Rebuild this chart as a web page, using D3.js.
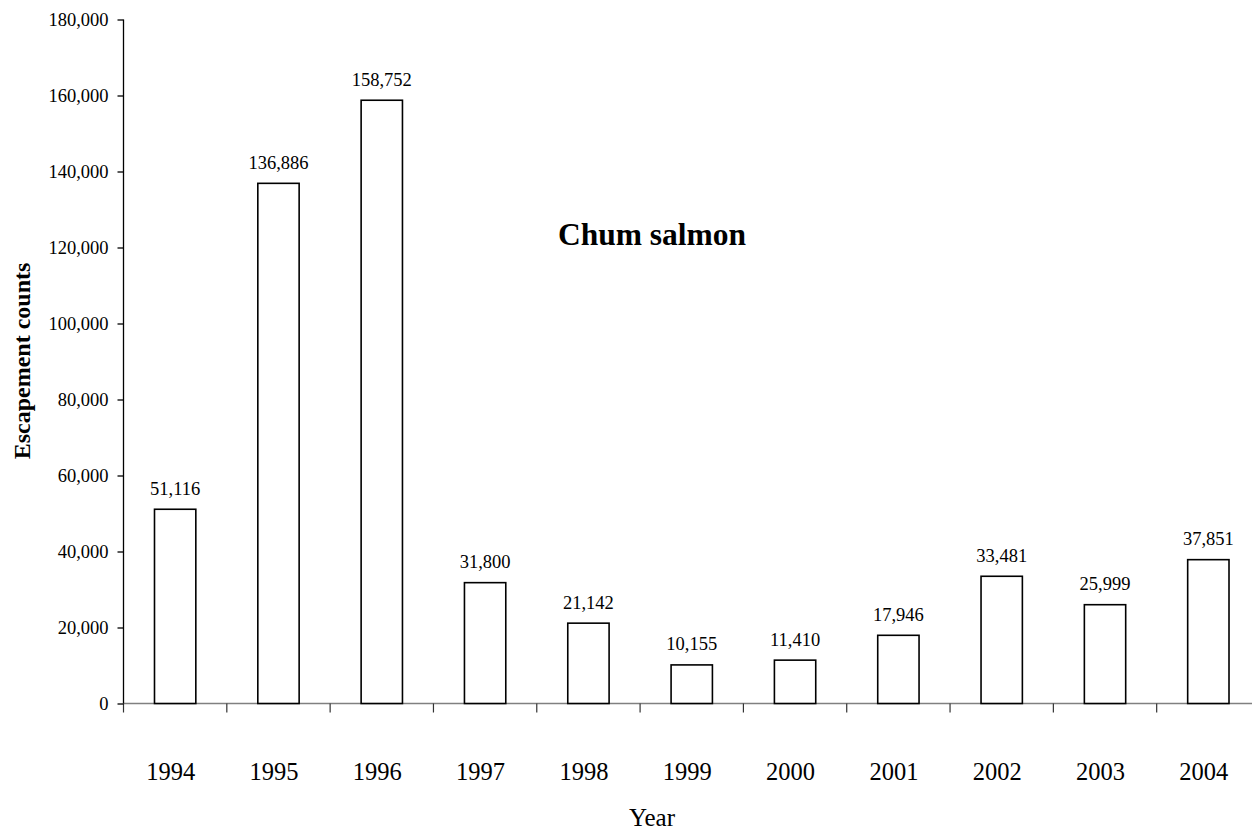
<!DOCTYPE html>
<html>
<head>
<meta charset="utf-8">
<script src="https://cdn.jsdelivr.net/npm/d3@7"></script>
<style>
  html, body { margin: 0; padding: 0; background: #fff; }
  svg text { font-family: "Liberation Serif", "Times New Roman", serif; }
</style>
</head>
<body>
<svg id="chart" width="1252" height="831"></svg>
<script>
// Chum salmon escapement counts by year
const years = ["1994", "1995", "1996", "1997", "1998", "1999", "2000", "2001", "2002", "2003", "2004"];
const counts = [51116, 136886, 158752, 31800, 21142, 10155, 11410, 17946, 33481, 25999, 37851];
const yTicks = [0, 20000, 40000, 60000, 80000, 100000, 120000, 140000, 160000, 180000];

const serif = "Liberation Serif";
const svg = d3.select("#chart");
const plotLeft = 123.5, plotTop = 19.5, plotBottom = 703.5, plotRight = 1260;

const x = d3.scaleBand().domain(years).range([plotLeft, plotRight]).paddingInner(0).paddingOuter(0);
const y = d3.scaleLinear().domain([0, 180000]).range([plotBottom, plotTop]);
const fmt = d3.format(",");
const barW = x.bandwidth() * 0.4;

// x axis: grey baseline with ticks at category boundaries (drawn under the bars)
svg.append("line")
  .attr("x1", plotLeft).attr("x2", 1252)
  .attr("y1", plotBottom).attr("y2", plotBottom)
  .attr("stroke", "#808080").attr("stroke-width", 1.6);
const bounds = years.map(d => x(d));
svg.append("g").selectAll("line").data(bounds).join("line")
  .attr("x1", d => d).attr("x2", d => d)
  .attr("y1", plotBottom).attr("y2", plotBottom + 9)
  .attr("stroke", "#333").attr("stroke-width", 1.2);

// bars
svg.append("g").selectAll("rect").data(years).join("rect")
  .attr("x", d => x(d) + (x.bandwidth() - barW) / 2)
  .attr("y", (d, i) => y(counts[i]))
  .attr("width", barW)
  .attr("height", (d, i) => y(0) - y(counts[i]))
  .attr("fill", "#fff")
  .attr("stroke", "#000")
  .attr("stroke-width", 1.6);

// value labels
svg.append("g").selectAll("text").data(years).join("text")
  .attr("x", d => x(d) + x.bandwidth() / 2)
  .attr("y", (d, i) => y(counts[i]) - 14.5)
  .attr("text-anchor", "middle")
  .attr("font-family", serif)
  .attr("font-size", 18.5)
  .attr("fill", "#000")
  .text((d, i) => fmt(counts[i]));

// y axis
const yAxis = svg.append("g")
  .attr("transform", `translate(${plotLeft},0)`)
  .call(d3.axisLeft(y).tickValues(yTicks).tickFormat(fmt).tickSize(6).tickPadding(9));
yAxis.attr("font-family", serif);
yAxis.select(".domain").attr("stroke", "#000").attr("stroke-width", 1.3).attr("d", `M0,${plotBottom}V${plotTop}`);
yAxis.selectAll(".tick line").attr("stroke", "#000").attr("stroke-width", 1.3);
yAxis.selectAll(".tick text").attr("font-family", serif).attr("font-size", 18.5).attr("fill", "#000");

// year labels
svg.append("g").selectAll("text").data(years).join("text")
  .attr("x", d => x(d) + x.bandwidth() / 2 - 4.5)
  .attr("y", 780)
  .attr("text-anchor", "middle")
  .attr("font-family", serif)
  .attr("font-size", 24.5)
  .attr("fill", "#000")
  .text(d => d);

// axis titles
svg.append("text")
  .attr("x", 652).attr("y", 826)
  .attr("text-anchor", "middle")
  .attr("font-family", serif)
  .attr("font-size", 25)
  .text("Year");

svg.append("text")
  .attr("transform", "translate(30,361) rotate(-90)")
  .attr("text-anchor", "middle")
  .attr("font-family", serif)
  .attr("font-size", 24)
  .attr("font-weight", "bold")
  .text("Escapement counts");

// chart title
svg.append("text")
  .attr("x", 652).attr("y", 245)
  .attr("text-anchor", "middle")
  .attr("font-family", serif)
  .attr("font-size", 31.5)
  .attr("font-weight", "bold")
  .text("Chum salmon");
</script>
</body>
</html>
